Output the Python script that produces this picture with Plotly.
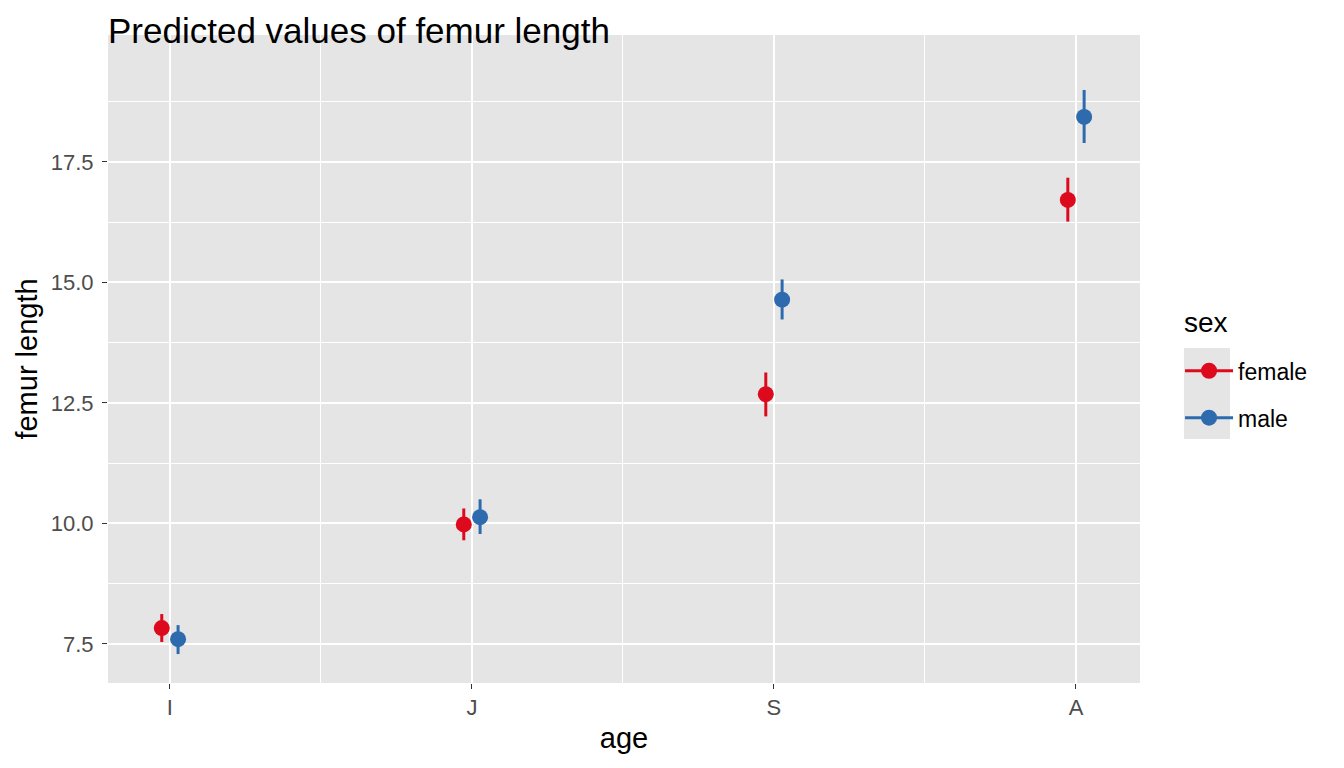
import plotly.graph_objects as go

# data
ages = ["I", "J", "S", "A"]

female_pred = [7.83, 9.98, 12.68, 16.71]
female_low = [7.54, 9.65, 12.22, 16.26]
female_high = [8.12, 10.31, 13.13, 17.17]

male_pred = [7.60, 10.13, 14.64, 18.43]
male_low = [7.29, 9.78, 14.23, 17.89]
male_high = [7.89, 10.50, 15.06, 18.99]

y_ticks = [7.5, 10.0, 12.5, 15.0, 17.5]
y_minor = [8.75, 11.25, 13.75, 16.25, 18.75]

RED = "#dd0a1e"
BLUE = "#2d6bae"
DODGE = 0.027
FONT = "Liberation Sans, Arial, sans-serif"

fig = go.Figure()

series = [
    ("female", female_pred, female_low, female_high, RED, -DODGE),
    ("male", male_pred, male_low, male_high, BLUE, DODGE),
]

for name, pred, low, high, color, off in series:
    xs = [i + off for i in range(len(ages))]
    fig.add_trace(go.Scatter(
        x=xs, y=pred, mode="markers", name=name, showlegend=False,
        marker=dict(color=color, size=16),
        error_y=dict(
            type="data", symmetric=False,
            array=[h - p for h, p in zip(high, pred)],
            arrayminus=[p - l for p, l in zip(pred, low)],
            color=color, thickness=3, width=0,
        ),
    ))
    # legend key: line through point, like ggplot's pointrange key
    fig.add_trace(go.Scatter(
        x=[None], y=[None], mode="lines+markers", name=name,
        legendgroup=name,
        line=dict(color=color, width=3),
        marker=dict(color=color, size=16),
    ))

# grey background behind legend keys
fig.add_shape(type="rect", xref="paper", yref="paper",
              x0=1.0426, x1=1.0872, y0=0.3765, y1=0.517,
              fillcolor="#e5e5e5", line=dict(width=0), layer="below")

# legend title as its own text so the gap to the keys matches ggplot
fig.add_annotation(text="sex", xref="paper", yref="paper", x=1.0406, y=0.557,
                   xanchor="left", yanchor="middle", showarrow=False,
                   font=dict(size=28, color="black"))

# page body adds 8px offset, margins compensate
fig.update_layout(
    width=1344, height=768,
    margin=dict(l=100, r=212, t=27, b=93),
    paper_bgcolor="white",
    plot_bgcolor="#e5e5e5",
    font=dict(family=FONT, color="black"),
    title=dict(text="Predicted values of femur length", xref="paper", x=0,
               xanchor="left", yref="container", y=0.971, yanchor="middle",
               font=dict(size=35, color="black")),
    legend=dict(
        x=1.0388, xanchor="left", y=0.515, yanchor="top",
        font=dict(size=23), itemwidth=48, tracegroupgap=14,
        bgcolor="rgba(0,0,0,0)",
    ),
    xaxis=dict(
        range=[-0.205, 3.212],
        tickvals=list(range(len(ages))), ticktext=ages,
        showgrid=True, gridcolor="white", gridwidth=2,
        zeroline=False, ticks="outside", ticklen=5, tickcolor="#333333",
        tickfont=dict(size=22, color="#4d4d4d"),
        title=dict(text="age", font=dict(size=29), standoff=8),
        minor=dict(tickvals=[0.5, 1.5, 2.5], showgrid=True,
                   gridcolor="white", gridwidth=1, ticks=""),
    ),
    yaxis=dict(
        range=[6.69, 20.13],
        tickvals=y_ticks, ticktext=[f"{v:.1f}" for v in y_ticks],
        showgrid=True, gridcolor="white", gridwidth=2,
        zeroline=False, ticks="outside", ticklen=5, tickcolor="#333333",
        tickfont=dict(size=22, color="#4d4d4d"), ticklabelstandoff=4,
        title=dict(text="femur length", font=dict(size=29), standoff=4),
        minor=dict(tickvals=y_minor, showgrid=True,
                   gridcolor="white", gridwidth=1, ticks=""),
    ),
)

fig.write_html("out.html")
